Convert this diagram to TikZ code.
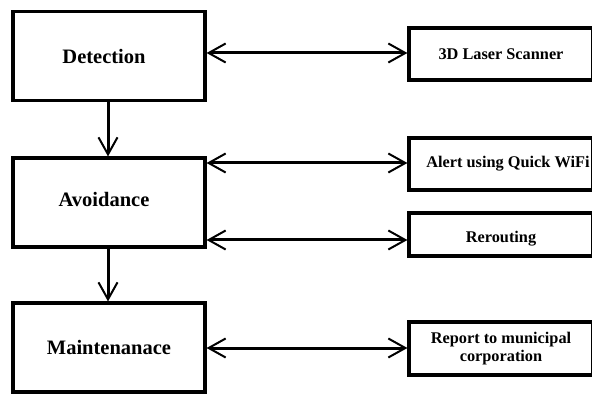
\documentclass[tikz,border=0pt]{standalone}
\usepackage{fontspec}
\setmainfont{Liberation Serif}
\usetikzlibrary{arrows.meta}
\begin{document}
\begin{tikzpicture}[x=1pt,y=1pt,
  mainbox/.style={draw, line width=3.2pt, minimum width=192pt, minimum height=89pt, inner sep=0pt,
    font=\bfseries\fontsize{20.5}{24}\selectfont},
  sidebox/.style={draw, line width=3.2pt, minimum width=184pt, inner sep=0pt, align=center,
    font=\bfseries\fontsize{16.3}{18}\selectfont},
  barb/.tip={Straight Barb[length=17pt,width=19pt,line width=2pt]},
  conn/.style={line width=3pt, barb-barb},
  down/.style={line width=3pt, -barb}]
\useasboundingbox (0,0) rectangle (592,394);
\fill[white] (0,0) rectangle (592,394);
\node[mainbox] (det) at (109,338) {\hspace*{-10pt}Detection};
\node[mainbox] (avo) at (109,191.5) {\hspace*{-10pt}Avoidance\rule[-6pt]{0pt}{0pt}};
\node[mainbox] (mai) at (109,46.5) {Maintenanace};
\node[sidebox, minimum height=52pt] (las) at (501,340) {3D Laser Scanner};
\node[sidebox, minimum height=52pt] (ale) at (501,230) {\hspace*{14pt}Alert using Quick WiFi};
\node[sidebox, minimum height=43pt] (rer) at (501,159.5) {Rerouting\rule{0pt}{19pt}};
\node[sidebox, minimum height=53pt] (rep) at (501,45.5) {Report to municipal\\corporation};
\coordinate (y1) at (0,341);
\coordinate (y2) at (0,231);
\coordinate (y3) at (0,154);
\coordinate (y4) at (0,46);
\coordinate (vx) at (108,0);
\draw[conn] (det.east |- y1) -- (las.west |- y1);
\draw[conn] (avo.east |- y2) -- (ale.west |- y2);
\draw[conn] (avo.east |- y3) -- (rer.west |- y3);
\draw[conn] (mai.east |- y4) -- (rep.west |- y4);
\draw[down] (det.south -| vx) -- (avo.north -| vx);
\draw[down] (avo.south -| vx) -- (mai.north -| vx);
\end{tikzpicture}
\end{document}
